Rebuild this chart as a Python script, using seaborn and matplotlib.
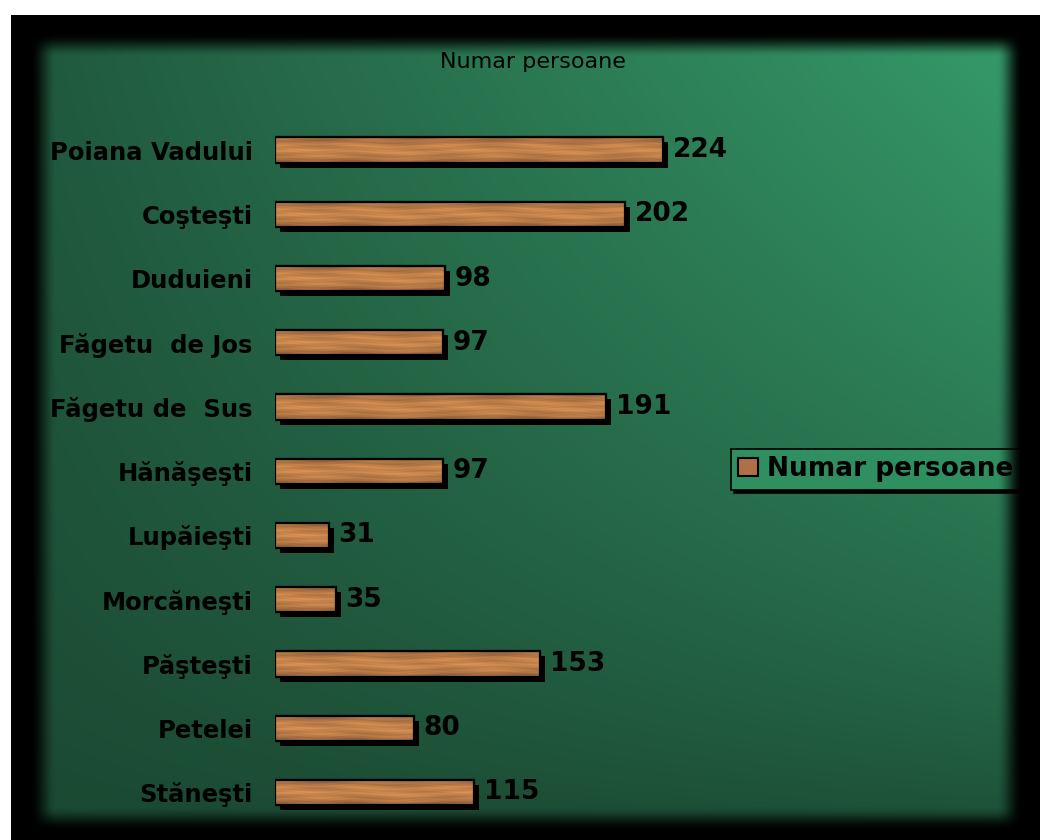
import numpy as np
import matplotlib
matplotlib.use("Agg")
import matplotlib.pyplot as plt
import seaborn as sns
from matplotlib import patheffects as pe
from matplotlib.patches import Patch, Rectangle

villages = ["Poiana Vadului", "Coşteşti", "Duduieni", "Făgetu  de Jos", "Făgetu de  Sus",
            "Hănăşeşti", "Lupăieşti", "Morcăneşti", "Păşteşti", "Petelei", "Stăneşti"]
persons = [224, 202, 98, 97, 191, 97, 31, 35, 153, 80, 115]
series_name = "Numar persoane"

W, H = 1040, 840
fig = plt.figure(figsize=(W / 100, H / 100), dpi=100)

# green gradient background
yy, xx = np.mgrid[0:H, 0:W]
xf, yf = xx / W, yy / H
f = np.clip(0.2 + 0.8 * xf, 0, 1) * (1 - yf) ** 0.6
dark = np.array([26, 70, 49]) / 255
light = np.array([55, 158, 108]) / 255
bg = dark + (light - dark) * f[..., None]
bg_ax = fig.add_axes([0, 0, 1, 1], zorder=0)
bg_ax.imshow(bg, aspect="auto")
bg_ax.axis("off")


def ramp(v):
    v = np.clip(v, 0, 1)
    return v * v * (3 - 2 * v)


# black blurred frame on top
vis = ramp((xx - 30) / 26) * ramp((1022 - xx) / 26) * ramp((yy - 33) / 24) * ramp((830 - yy) / 24)
frame = np.zeros((H, W, 4))
frame[..., 3] = 1 - vis
frame[(xx < 11) | (yy < 15)] = [1, 1, 1, 1]
ov_ax = fig.add_axes([0, 0, 1, 1], zorder=3)
ov_ax.imshow(frame, aspect="auto")
ov_ax.axis("off")

# chart
ax = fig.add_axes([275 / W, 15.4 / H, 433 / W, 706.7 / H], zorder=1)
ax.set_facecolor("none")
sns.barplot(x=persons, y=villages, orient="h", color="#b87a45", width=0.39,
            edgecolor="black", linewidth=1.5, ax=ax)

# wood texture for the bars
u = np.linspace(0, 1, 600)
v = np.linspace(0, 1, 30)
U, V = np.meshgrid(u, v)
streak = (0.06 * np.sin(2 * np.pi * (V * 4 + 0.25 * np.sin(U * 2 * np.pi * 2.5)))
          + 0.04 * np.sin(2 * np.pi * (V * 9 + 0.4 * np.sin(U * 2 * np.pi * 6 + 1)))
          + 0.04 * np.sin(2 * np.pi * (U * 5 + 0.3 * np.sin(V * 2 * np.pi))))
shade = 0.80 + 0.24 * np.sin(np.pi * V) + streak
wood = np.array([0.75, 0.50, 0.29])
tex = np.clip(wood * shade[..., None], 0, 1)

for p in list(ax.patches):
    p.set_path_effects([pe.SimplePatchShadow(offset=(3.6, -3.6), shadow_rgbFace="black", alpha=1),
                        pe.Normal()])
    x0, y0, w, h = p.get_x(), p.get_y(), p.get_width(), p.get_height()
    ncol = int(w * 2.4) + 2
    im = ax.imshow(tex[:, :ncol], extent=(x0, x0 + w, y0 + h, y0), aspect="auto",
                   interpolation="bilinear", zorder=p.get_zorder() + 0.5)
    im.set_clip_path(p)
    ax.add_patch(Rectangle((x0, y0), w, h, fill=False, edgecolor="black", lw=1.6,
                           zorder=p.get_zorder() + 1))

ax.bar_label(ax.containers[0], padding=7, fontsize=19, fontweight="bold",
             family="DejaVu Sans", color="black")

ax.set_xlim(0, 250)
ax.set_ylim(10.5, -0.5)
ax.set_xticks([])
ax.set_xlabel("")
ax.set_ylabel("")
ax.tick_params(axis="y", length=0, pad=16, labelsize=17.5)
for lbl in ax.get_yticklabels():
    lbl.set_fontweight("bold")
    lbl.set_family("DejaVu Sans")
for s in ax.spines.values():
    s.set_visible(False)

leg = ax.legend(handles=[Patch(facecolor="#b07045", edgecolor="black", lw=1.5, label=series_name)],
                loc="upper left", bbox_to_anchor=(731 / W, 1 - 449 / H), bbox_transform=fig.transFigure,
                prop={"family": "DejaVu Sans", "weight": "bold", "size": 19},
                frameon=True, fancybox=False, facecolor="#2f8f60", edgecolor="black", framealpha=1,
                borderpad=0.28, handlelength=0.75, handleheight=0.65, handletextpad=0.35, borderaxespad=0,
                shadow={"facecolor": "black", "edgecolor": "black", "alpha": 1})
leg.get_frame().set_linewidth(1.2)

fig.text(533 / W, 1 - 62 / H, series_name, ha="center", va="center", fontsize=16,
         family="DejaVu Sans", color="black", zorder=5)

fig.savefig("out.png", dpi=100)
